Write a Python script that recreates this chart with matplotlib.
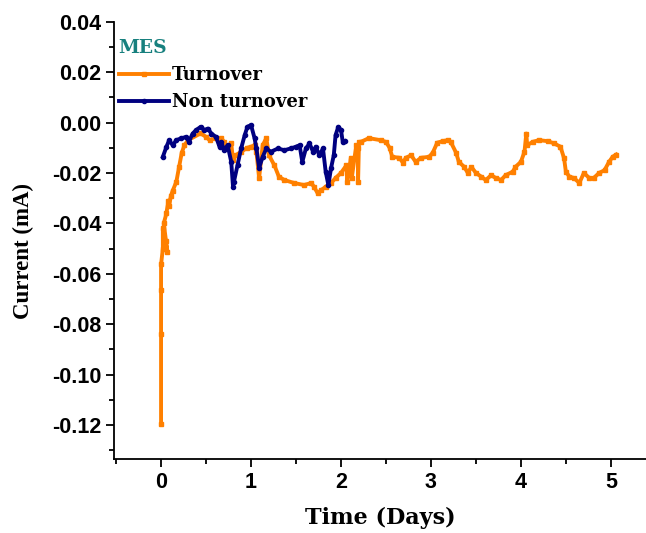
import numpy as np
import matplotlib
matplotlib.use("Agg")
import matplotlib.pyplot as plt
from matplotlib.ticker import MultipleLocator, FormatStrFormatter

plt.rcParams['axes.unicode_minus'] = False

# Turnover series (days, mA)
turn_x = [0.0, 0.0, 0.0, 0.0, 0.02, 0.02, 0.05, 0.07, 0.03, 0.06, 0.08, 0.09,
          0.11, 0.13, 0.17, 0.20, 0.23, 0.26, 0.30, 0.44, 0.50, 0.54, 0.61,
          0.67, 0.70, 0.74, 0.78, 0.80, 0.83, 0.89, 0.96, 1.00, 1.04, 1.06,
          1.09, 1.13, 1.17, 1.20, 1.26, 1.31, 1.37, 1.48, 1.59, 1.67, 1.70,
          1.74, 1.78, 1.83, 1.89, 1.94, 2.00, 2.06, 2.07, 2.11, 2.12, 2.17,
          2.19, 2.19, 2.20, 2.22, 2.31, 2.44, 2.50, 2.54, 2.57, 2.65, 2.69,
          2.72, 2.78, 2.83, 2.89, 2.98, 3.02, 3.07, 3.13, 3.19, 3.22, 3.28,
          3.31, 3.37, 3.41, 3.45, 3.50, 3.56, 3.61, 3.67, 3.72, 3.78, 3.83,
          3.91, 3.94, 4.00, 4.04, 4.06, 4.07, 4.13, 4.20, 4.30, 4.37, 4.44,
          4.48, 4.50, 4.54, 4.59, 4.65, 4.70, 4.76, 4.81, 4.87, 4.93, 4.98,
          5.02, 5.06]
turn_y = [-0.1195, -0.0839, -0.0666, -0.0563, -0.0500, -0.0420, -0.0470, -0.0512,
          -0.0400, -0.0360, -0.0310, -0.0330, -0.0290, -0.0270, -0.0235, -0.0177,
          -0.0120, -0.0090, -0.0070, -0.0043, -0.0057, -0.0070, -0.0062, -0.0062,
          -0.0077, -0.0100, -0.0082, -0.0150, -0.0130, -0.0116, -0.0100, -0.0096,
          -0.0090, -0.0116, -0.0220, -0.0090, -0.0062, -0.0130, -0.0170, -0.0215,
          -0.0228, -0.0240, -0.0248, -0.0240, -0.0255, -0.0280, -0.0268, -0.0255,
          -0.0240, -0.0220, -0.0200, -0.0170, -0.0235, -0.0140, -0.0220, -0.0090,
          -0.0100, -0.0235, -0.0077, -0.0077, -0.0062, -0.0070, -0.0077, -0.0100,
          -0.0136, -0.0140, -0.0160, -0.0140, -0.0130, -0.0156, -0.0140, -0.0136,
          -0.0120, -0.0080, -0.0074, -0.0070, -0.0077, -0.0120, -0.0156, -0.0176,
          -0.0200, -0.0176, -0.0200, -0.0215, -0.0228, -0.0209, -0.0220, -0.0228,
          -0.0209, -0.0195, -0.0176, -0.0156, -0.0116, -0.0044, -0.0090, -0.0077,
          -0.0070, -0.0074, -0.0083, -0.0096, -0.0142, -0.0195, -0.0215, -0.0220,
          -0.0240, -0.0200, -0.0220, -0.0220, -0.0200, -0.0189, -0.0156, -0.0136,
          -0.0127]

# Non turnover series (days, mA)
non_x = [0.02, 0.06, 0.09, 0.13, 0.17, 0.22, 0.28, 0.31, 0.35, 0.39, 0.44, 0.48,
         0.52, 0.56, 0.61, 0.65, 0.67, 0.70, 0.74, 0.78, 0.80, 0.81, 0.85, 0.89,
         0.93, 0.96, 1.00, 1.04, 1.06, 1.09, 1.13, 1.17, 1.22, 1.30, 1.37, 1.44,
         1.50, 1.54, 1.57, 1.61, 1.65, 1.69, 1.72, 1.76, 1.80, 1.83, 1.86, 1.89,
         1.92, 1.94, 1.97, 2.00, 2.02, 2.04]
non_y = [-0.0136, -0.0096, -0.0070, -0.0090, -0.0070, -0.0063, -0.0057, -0.0077,
         -0.0044, -0.0030, -0.0017, -0.0030, -0.0024, -0.0044, -0.0057, -0.0096,
         -0.0077, -0.0110, -0.0090, -0.0156, -0.0255, -0.0235, -0.0169, -0.0103,
         -0.0050, -0.0017, -0.0010, -0.0063, -0.0103, -0.0180, -0.0136, -0.0103,
         -0.0116, -0.0103, -0.0110, -0.0103, -0.0096, -0.0090, -0.0156, -0.0103,
         -0.0083, -0.0116, -0.0096, -0.0130, -0.0103, -0.0195, -0.0248, -0.0180,
         -0.0130, -0.0050, -0.0017, -0.0030, -0.0077, -0.0074]

series_labels = ["Turnover", "Non turnover"]
legend_title = "MES"

fig = plt.figure(figsize=(6.46, 5.33), dpi=100)
ax = fig.add_axes([0.1769, 0.1383, 0.823, 0.821])

ax.plot(turn_x, turn_y, color='#ff8000', lw=2.8, marker='s', ms=3,
        label=series_labels[0])
ax.plot(non_x, non_y, color='#000080', lw=2.8, marker='o', ms=3,
        label=series_labels[1])

ax.set_xlim(-0.52, 5.39)
ax.set_ylim(-0.1336, 0.04)
ax.xaxis.set_major_locator(MultipleLocator(1))
ax.xaxis.set_minor_locator(MultipleLocator(0.5))
ax.yaxis.set_major_locator(MultipleLocator(0.02))
ax.yaxis.set_minor_locator(MultipleLocator(0.01))
ax.yaxis.set_major_formatter(FormatStrFormatter('%.2f'))

for side in ['top', 'right']:
    ax.spines[side].set_visible(False)
for side in ['left', 'bottom']:
    ax.spines[side].set_linewidth(1.3)

ax.tick_params(which='major', direction='out', length=6, width=1.3)
ax.tick_params(which='minor', direction='out', length=3.5, width=1.3)
for lab in ax.get_xticklabels() + ax.get_yticklabels():
    lab.set_fontfamily('Liberation Sans')
    lab.set_fontweight('bold')
    lab.set_fontsize(15.5)

ax.set_xlabel("Time (Days)", family='DejaVu Serif', weight='bold', fontsize=16,
              labelpad=10)
ax.set_ylabel("Current (mA)", family='Liberation Serif', weight='bold', fontsize=16.5)
ax.yaxis.set_label_coords(-0.15, 0.476)

leg = ax.legend(title=legend_title, loc='upper left', bbox_to_anchor=(-0.012, 0.985),
                frameon=False, numpoints=1, handlelength=2.8,
                prop={'family': 'DejaVu Serif', 'weight': 'bold', 'size': 13},
                title_fontproperties={'family': 'DejaVu Serif', 'weight': 'bold',
                                      'size': 13.5},
                alignment='left', labelspacing=0.5, handletextpad=0.15,
                borderaxespad=0.2)
leg.get_title().set_color('#17807e')

fig.savefig('out.png', dpi=100)
